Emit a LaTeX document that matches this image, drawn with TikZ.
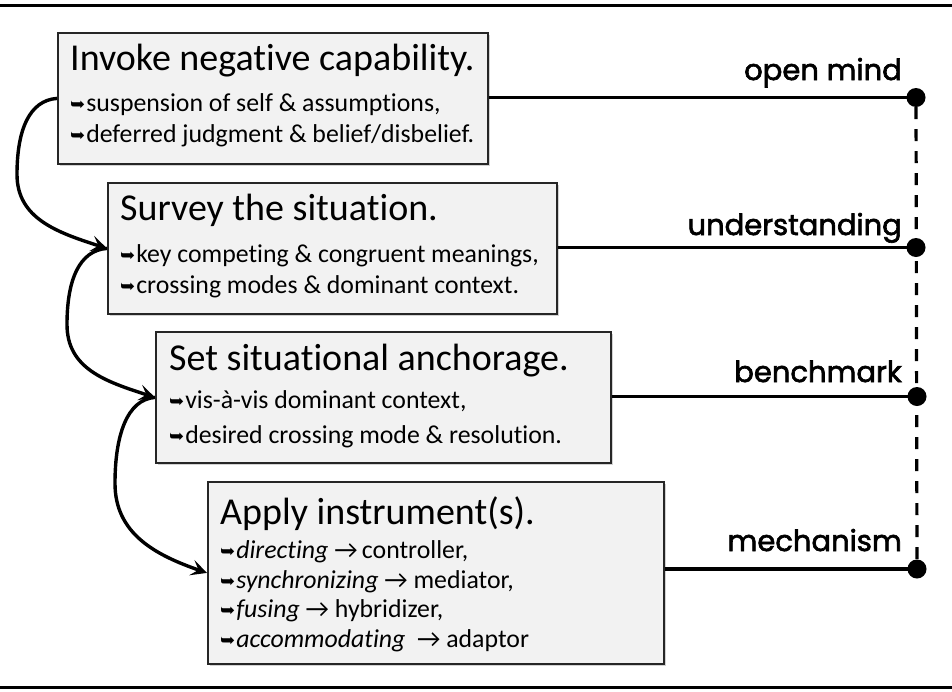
\documentclass[tikz,border=0pt]{standalone}
\usepackage{fontspec}
\setmainfont{Carlito}[Ligatures={NoCommon,NoContextual},Contextuals=NoAlternate]
\newfontfamily\symf{DejaVu Sans}
\newfontfamily\lblf[FakeBold=2.2]{Poppins}
\usetikzlibrary{arrows.meta,shadows}

% small curved bullet arrow used in front of each sub item
\newcommand\hk{\raisebox{0.5pt}{\symf\fontsize{18}{18}\selectfont ➥}\hspace{1pt}}

\tikzset{
  card/.style={draw=black!85, line width=1.8pt, fill=black!5, anchor=north west,
    inner sep=0pt, drop shadow={shadow xshift=2.5pt, shadow yshift=-2.5pt, fill=black!35}},
  ttl/.style={anchor=base west, inner sep=0pt, font=\fontsize{38}{44}\selectfont},
  sub/.style={anchor=base west, inner sep=0pt, font=\fontsize{25.8}{30}\selectfont},
  lbl/.style={anchor=base east, inner sep=0pt, font=\lblf\fontsize{29}{34}\selectfont},
  dotnode/.style={circle, fill=black, inner sep=0pt, minimum size=19pt},
  link/.style={line width=3.2pt},
  flow/.style={line width=3.4pt, -{Stealth[length=16pt,width=16pt,inset=7pt]}},
  rule/.style={line width=3pt},
}

\begin{document}
\begin{tikzpicture}[x=1pt,y=-1pt]
\useasboundingbox (0,0) rectangle (952,691);

% horizontal rules at top and bottom
\coordinate (rtl) at (0,5);   \coordinate (rtr) at (952,5);
\coordinate (rbl) at (0,687); \coordinate (rbr) at (952,687);
\draw[rule] (rtl) -- (rtr);
\draw[rule] (rbl) -- (rbr);

% step boxes
\node[card, minimum width=430pt, minimum height=131pt] (b1) at (57,32) {};
\node[card, minimum width=449pt, minimum height=131pt] (b2) at (107,182) {};
\node[card, minimum width=455pt, minimum height=131pt] (b3) at (155,331) {};
\node[card, minimum width=456pt, minimum height=182pt] (b4) at (207,481) {};

% box texts
\node[ttl] (t1) at (70,70) {Invoke negative capability.};
\node[sub] (t1a) at (70,111) {\hk suspension of self \& assumptions,};
\node[sub] (t1b) at (70,142) {\hk deferred judgment \& belief/disbelief.};

\node[ttl] (t2) at (120,220) {Survey the situation.};
\node[sub] (t2a) at (120,262) {\hk key competing \& congruent meanings,};
\node[sub] (t2b) at (120,293) {\hk crossing modes \& dominant context.};

\node[ttl] (t3) at (169,370) {Set situational anchorage.};
\node[sub] (t3a) at (169,408) {\hk vis-à-vis dominant context,};
\node[sub] (t3b) at (169,443) {\hk desired crossing mode \& resolution.};

\node[ttl] (t4) at (220,524) {Apply instrument(s).};
\node[sub] (t4a) at (220,558) {\hk\textit{directing} →\,controller,};
\node[sub] (t4b) at (220,588) {\hk\textit{synchronizing} → mediator,};
\node[sub] (t4c) at (220,617) {\hk\textit{fusing} → hybridizer,};
\node[sub] (t4d) at (220,647) {\hk\textit{accommodating}\ \ → adaptor};

% end points on the right
\node[dotnode] (d1) at (916,97.5) {};
\node[dotnode] (d2) at (916,247.5) {};
\node[dotnode] (d3) at (917,396.5) {};
\node[dotnode] (d4) at (917,569) {};

\draw[link, dash pattern=on 12pt off 10pt] (d1) -- (d4);

\draw[link] (b1.east |- d1) -- (d1.center);
\draw[link] (b2.east |- d2) -- (d2.center);
\draw[link] (b3.east |- d3) -- (d3.center);
\draw[link] (b4.east |- d4) -- (d4.center);

\node[lbl] (l1) at (902,80) {open mind};
\node[lbl] (l2) at (902,235) {understanding};
\node[lbl] (l3) at (902,382) {benchmark};
\node[lbl] (l4) at (902,551) {mechanism};

% sequence arrows down the left side
\draw[flow] (b1.west) .. controls +(-28,2) and +(0,-44) .. ++(-40,76)
  .. controls +(0,44) and +(-50,-16) .. (b2.west);
\draw[flow] (b2.west) .. controls +(-28,2) and +(0,-44) .. ++(-40,76)
  .. controls +(0,44) and +(-50,-16) .. (b3.west);
\draw[flow] (b3.west) .. controls +(-28,2) and +(0,-48) .. ++(-40,86)
  .. controls +(0,50) and +(-52,-18) .. (b4.west);
\end{tikzpicture}
\end{document}
